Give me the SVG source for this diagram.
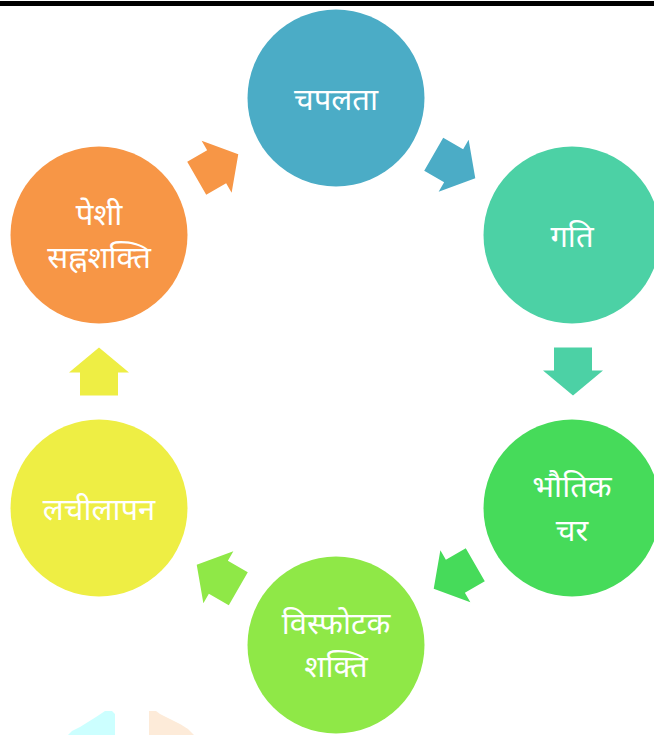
<svg xmlns="http://www.w3.org/2000/svg" width="654" height="735" viewBox="0 0 654 735">
<style>
.lbl{fill:#fff;font-family:"Noto Sans","Noto Sans Devanagari","Lohit Devanagari",sans-serif;font-size:31px;text-anchor:middle}
</style>
<defs>
<path id="arr" d="M-19,-24 H19 V-1 H30 L0,24 L-30,-1 H-19 Z"/>
</defs>
<rect width="654" height="735" fill="#fff"/>
<rect x="0" y="1" width="654" height="5" fill="#000"/>
<polygon points="68,735 72,731 80,727 88,722 96,717 105,711 112,711 115,714 115,735" fill="#ccffff"/>
<polygon points="149,735 149,711 156,711 160,714 170,719 180,724 188,729 194,735" fill="#fdebd9"/>
<g id="connectors">
<use href="#arr" fill="#4bacc6" transform="translate(454.5,166.3) rotate(-60)"/>
<use href="#arr" fill="#4cd1a5" transform="translate(573,371.5) rotate(0)"/>
<use href="#arr" fill="#46db5a" transform="translate(454.5,576.7) rotate(60)"/>
<use href="#arr" fill="#8fe847" transform="translate(217.5,576.7) rotate(120)"/>
<use href="#arr" fill="#eeee44" transform="translate(99,371.5) rotate(180)"/>
<use href="#arr" fill="#f79646" transform="translate(217.5,166.3) rotate(240)"/>
</g>
<g id="n1"><circle cx="336" cy="98" r="88.5" fill="#4bacc6"/><text class="lbl" x="336" y="110">चपलता</text></g>
<g id="n2"><circle cx="572" cy="235" r="88.5" fill="#4cd1a5"/><text class="lbl" x="572" y="247">गति</text></g>
<g id="n3"><circle cx="572" cy="508" r="88.5" fill="#46db5a"/><text class="lbl" x="572" y="497">भौतिक</text><text class="lbl" x="572" y="541">चर</text></g>
<g id="n4"><circle cx="336" cy="645" r="88.5" fill="#8fe847"/><text class="lbl" x="336" y="634">विस्फोटक</text><text class="lbl" x="336" y="677">शक्ति</text></g>
<g id="n5"><circle cx="99" cy="508" r="88.5" fill="#eeee44"/><text class="lbl" x="99" y="520">लचीलापन</text></g>
<g id="n6"><circle cx="99" cy="235" r="88.5" fill="#f79646"/><text class="lbl" x="99" y="225">पेशी</text><text class="lbl" x="99" y="268">सह्नशक्ति</text></g>
</svg>
